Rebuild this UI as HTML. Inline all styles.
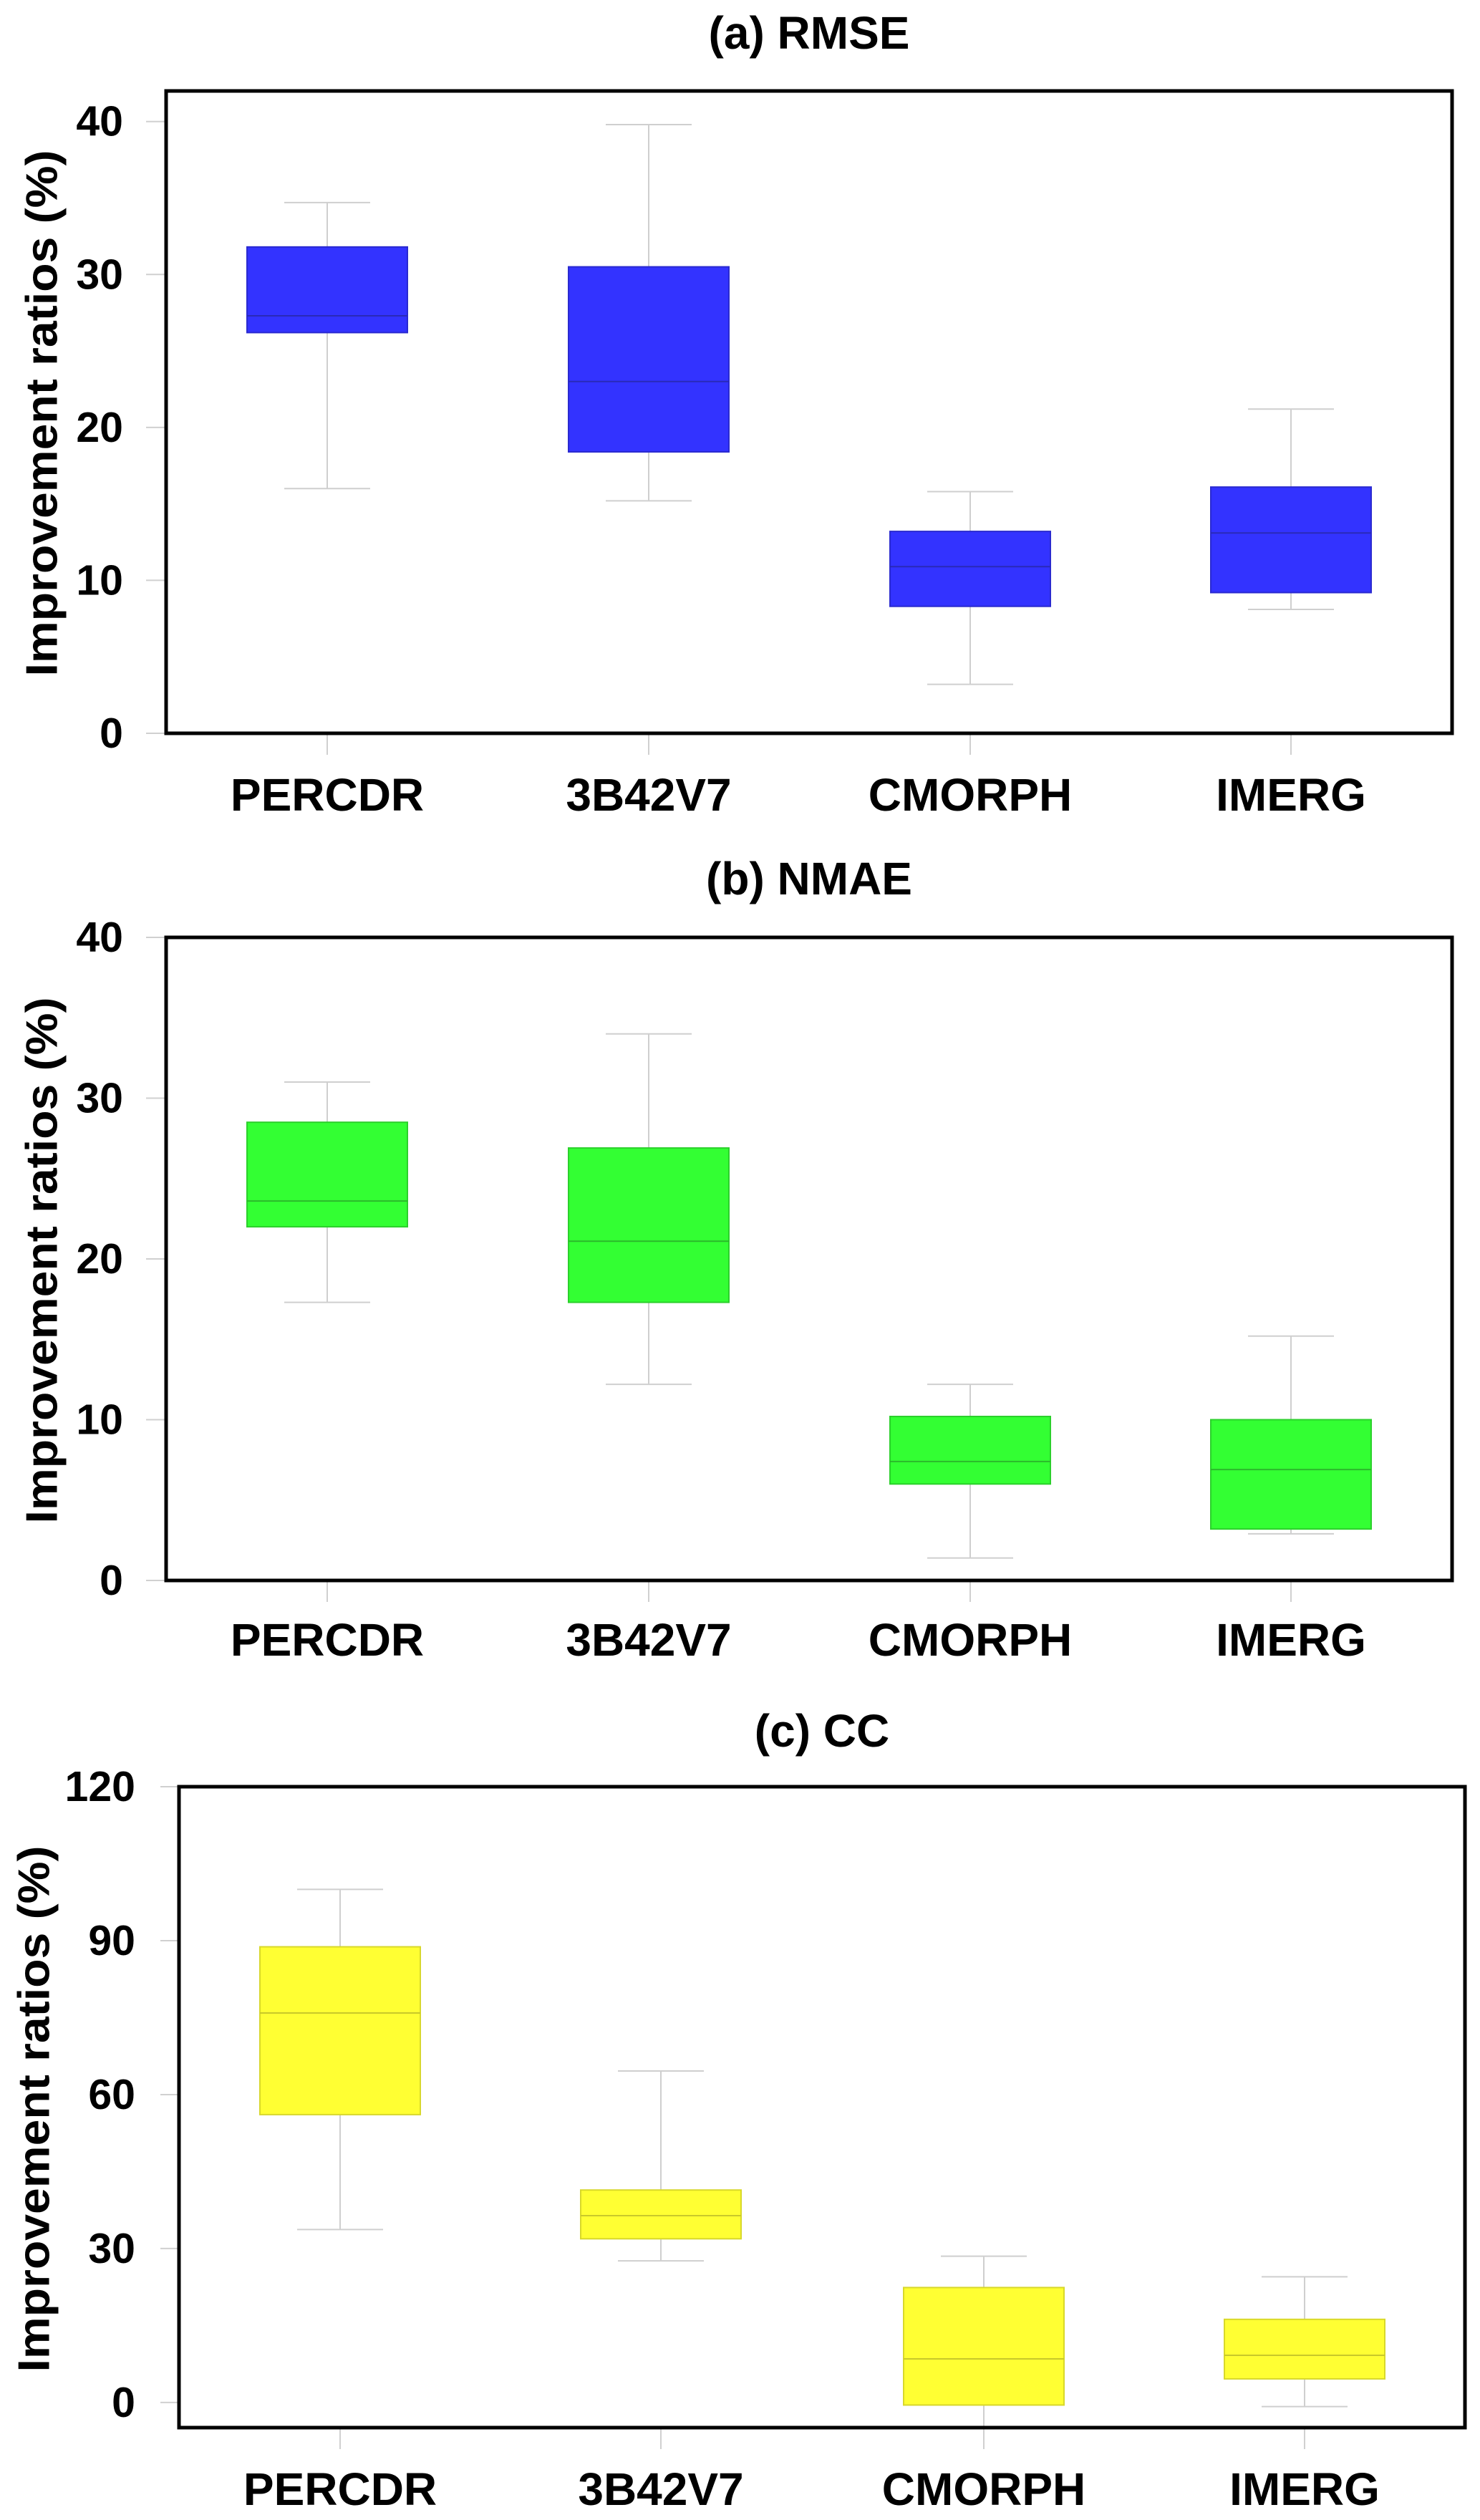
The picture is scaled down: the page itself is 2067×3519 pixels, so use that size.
<!DOCTYPE html>
<html><head><meta charset="utf-8">
<style>
html,body{margin:0;padding:0;background:#fff;}
svg{display:block;font-family:"Liberation Sans",Arial,sans-serif;font-weight:bold;}
</style></head>
<body>
<svg id="chart" width="2067" height="3519" viewBox="0 0 2067 3519" xmlns="http://www.w3.org/2000/svg"></svg>
<script>
const categories = ["PERCDR","3B42V7","CMORPH","IMERG"];
// [low, q1, median, q3, high]
const rmseStats = [[16.0,26.2,27.3,31.8,34.7],[15.2,18.4,23.0,30.5,39.8],[3.2,8.3,10.9,13.2,15.8],[8.1,9.2,13.1,16.1,21.2]];
const nmaeStats = [[17.3,22.0,23.6,28.5,31.0],[12.2,17.3,21.1,26.9,34.0],[1.4,6.0,7.4,10.2,12.2],[2.9,3.2,6.9,10.0,15.2]];
const ccStats = [[33.7,56.1,75.9,88.8,100.0],[27.6,31.9,36.4,41.4,64.6],[-8,-0.5,8.5,22.4,28.5],[-0.8,4.6,9.2,16.2,24.5]];
const rmseTicks = [0,10,20,30,40];
const nmaeTicks = [0,10,20,30,40];
const ccTicks = [0,30,60,90,120];
const titles = ["(a) RMSE","(b) NMAE","(c) CC"];

const NS="http://www.w3.org/2000/svg";
const svg=document.getElementById('chart');
function mk(tag,attrs,parent){const e=document.createElementNS(NS,tag);for(const k in attrs)e.setAttribute(k,attrs[k]);(parent||svg).appendChild(e);return e;}

const panels=[
 {stats:rmseStats,ticks:rmseTicks,title:titles[0],fill:"#3333ff",stroke:"#2a2ad0",med:"#2a2ab8",
  L:232,R:2028,T:127,B:1024,v0:0,v1:42.0,catX:[457,906,1355,1803],tickRight:172,tlx:204,titleY:46,labelY:1110,ylabX:59,ylabY:577,key:"rmse"},
 {stats:nmaeStats,ticks:nmaeTicks,title:titles[1],fill:"#33ff33",stroke:"#2bd02b",med:"#2bb82b",
  L:232,R:2028,T:1309,B:2207,v0:0,v1:40,catX:[457,906,1355,1803],tickRight:172,tlx:204,titleY:1227,labelY:2290,ylabX:59,ylabY:1760,key:"nmae"},
 {stats:ccStats,ticks:ccTicks,title:titles[2],fill:"#ffff33",stroke:"#d8d82a",med:"#c8c82a",
  L:250,R:2046,T:2495,B:3390,v0:-4.9,v1:120,catX:[475,923,1374,1822],tickRight:189,tlx:224,titleY:2417,labelY:3476,ylabX:48,ylabY:2945,key:"cc"}
];

panels.forEach(p=>{
  const g=mk('g',{});
  
  
  const y=v=>p.B-(v-p.v0)/(p.v1-p.v0)*(p.B-p.T);
  const cid='clip-'+p.key;
  const cp=mk('clipPath',{id:cid},g);
  mk('rect',{x:p.L,y:p.T,width:p.R-p.L,height:p.B-p.T},cp);
  // title
  const t=mk('text',{x:(p.L+p.R)/2,y:p.titleY,'font-size':64,'text-anchor':'middle','dominant-baseline':'central',fill:'#000'},g);
  t.textContent=p.title;
  
  
  // y label
  const yl=mk('text',{x:0,y:0,'font-size':62,'text-anchor':'middle','dominant-baseline':'central',fill:'#000',textLength:735,lengthAdjust:'spacingAndGlyphs',transform:`translate(${p.ylabX},${p.ylabY}) rotate(-90)`},g);
  yl.textContent="Improvement ratios (%)";
  
  
  // y ticks
  p.ticks.forEach(tv=>{
    const ty=y(tv);
    const ln=mk('line',{x1:p.tlx,x2:p.L,y1:ty,y2:ty,stroke:'#d0d0d0','stroke-width':2},g);
    
    
    const lb=mk('text',{x:p.tickRight,y:ty,'font-size':59,'text-anchor':'end','dominant-baseline':'central',fill:'#000'},g);
    lb.textContent=tv;
    
    
  });
  // boxes
  const bg=mk('g',{'clip-path':`url(#${cid})`},g);
  p.stats.forEach((s,i)=>{
    const cx=p.catX[i];
    const [lo,q1,md,q3,hi]=s;
    const bx=mk('g',{},bg);
    
    
    mk('line',{x1:cx,x2:cx,y1:y(hi),y2:y(q3),stroke:'#cfcfcf','stroke-width':2},bx);
    mk('line',{x1:cx,x2:cx,y1:y(q1),y2:y(lo),stroke:'#cfcfcf','stroke-width':2},bx);
    mk('line',{x1:cx-60,x2:cx+60,y1:y(hi),y2:y(hi),stroke:'#cfcfcf','stroke-width':2},bx);
    mk('line',{x1:cx-60,x2:cx+60,y1:y(lo),y2:y(lo),stroke:'#cfcfcf','stroke-width':2},bx);
    mk('rect',{x:cx-112,y:y(q3),width:224,height:y(q1)-y(q3),fill:p.fill,stroke:p.stroke,'stroke-width':2},bx);
    mk('line',{x1:cx-112,x2:cx+112,y1:y(md),y2:y(md),stroke:p.med,'stroke-width':2},bx);
  });
  // category ticks and labels
  categories.forEach((c,i)=>{
    const cx=p.catX[i];
    const tk=mk('line',{x1:cx,x2:cx,y1:p.B,y2:p.B+30,stroke:'#d0d0d0','stroke-width':2},g);
    
    
    const lb=mk('text',{x:cx,y:p.labelY,'font-size':64,'text-anchor':'middle','dominant-baseline':'central',fill:'#000'},g);
    lb.textContent=c;
    
    
  });
  // frame
  const fr=mk('rect',{x:p.L,y:p.T,width:p.R-p.L,height:p.B-p.T,fill:'none',stroke:'#000','stroke-width':5},g);
  
  
});
</script>
</body></html>
